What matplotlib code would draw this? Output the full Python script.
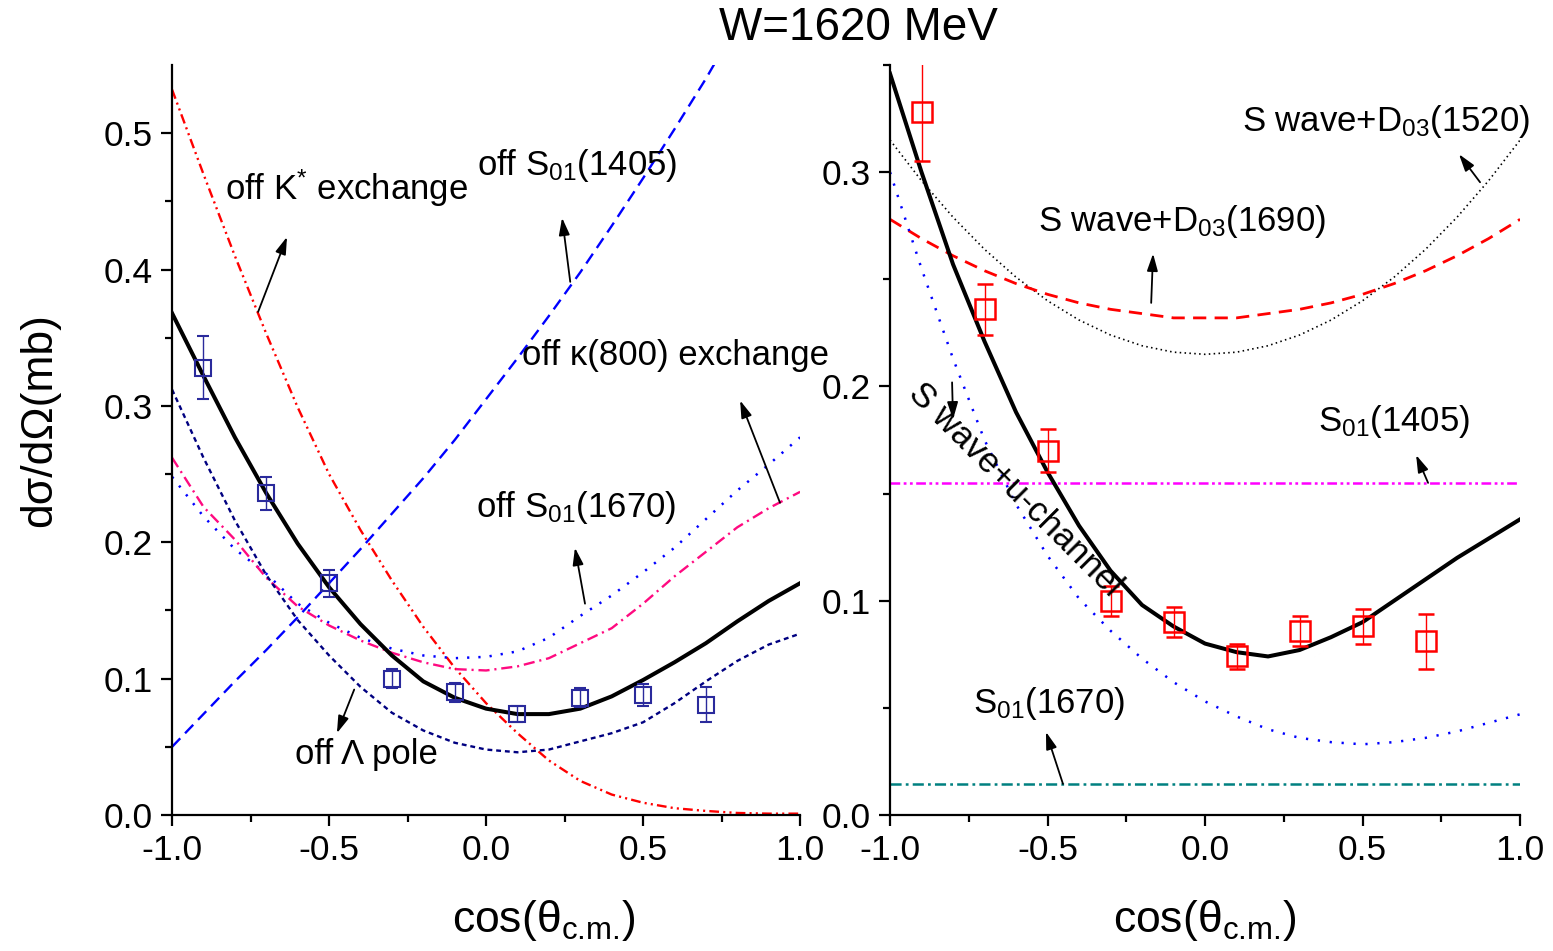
import numpy as np
import matplotlib
matplotlib.use('Agg')
import matplotlib.pyplot as plt

plt.rcParams['font.family'] = ['Liberation Sans', 'DejaVu Sans']
plt.rcParams['mathtext.fontset'] = 'custom'
plt.rcParams['mathtext.rm'] = 'Liberation Sans'
plt.rcParams['mathtext.it'] = 'Liberation Sans:italic'
plt.rcParams['mathtext.bf'] = 'Liberation Sans:bold'
plt.rcParams['axes.unicode_minus'] = False
plt.rcParams['lines.scale_dashes'] = False

# angular grid of the model curves
cos_th = [-1.0, -0.9, -0.8, -0.7, -0.6, -0.5, -0.4, -0.3, -0.2, -0.1, 0.0,
          0.1, 0.2, 0.3, 0.4, 0.5, 0.6, 0.7, 0.8, 0.9, 1.0]

# measured dsigma/dOmega (mb)
data_cos = [-0.9, -0.7, -0.5, -0.3, -0.1, 0.1, 0.3, 0.5, 0.7]
data_xs = [0.328, 0.236, 0.170, 0.100, 0.090, 0.074, 0.086, 0.088, 0.081]
data_err = [0.023, 0.012, 0.010, 0.007, 0.007, 0.006, 0.007, 0.008, 0.013]

# left panel: full model and "switch one piece off" curves
full_left = [0.368, 0.322, 0.277, 0.236, 0.199, 0.167, 0.140, 0.117, 0.098, 0.086, 0.078,
             0.074, 0.074, 0.078, 0.087, 0.099, 0.112, 0.126, 0.142, 0.157, 0.170]
off_kstar = [0.532, 0.470, 0.410, 0.353, 0.299, 0.250, 0.209, 0.172, 0.138, 0.108, 0.082,
             0.060, 0.040, 0.025, 0.015, 0.009, 0.005, 0.003, 0.0015, 0.001, 0.001]
off_s01_1405 = [0.050, 0.074, 0.098, 0.121, 0.145, 0.170, 0.195, 0.221, 0.247, 0.275, 0.305,
                0.335, 0.366, 0.398, 0.432, 0.467, 0.503, 0.540, 0.580, 0.620, 0.660]
off_kappa = [0.248, 0.219, 0.195, 0.177, 0.155, 0.141, 0.130, 0.122, 0.117, 0.115, 0.116,
             0.120, 0.130, 0.146, 0.161, 0.178, 0.196, 0.217, 0.238, 0.257, 0.277]
off_s01_1670 = [0.262, 0.226, 0.202, 0.174, 0.153, 0.139, 0.128, 0.119, 0.112, 0.107, 0.106,
                0.109, 0.115, 0.126, 0.137, 0.155, 0.175, 0.193, 0.211, 0.225, 0.237]
off_lambda = [0.312, 0.262, 0.216, 0.176, 0.143, 0.117, 0.094, 0.075, 0.062, 0.053, 0.048,
              0.046, 0.048, 0.054, 0.060, 0.068, 0.082, 0.098, 0.113, 0.125, 0.133]

# right panel: individual contributions
full_right = [0.346, 0.300, 0.257, 0.221, 0.188, 0.160, 0.135, 0.114, 0.098, 0.088, 0.080,
              0.076, 0.074, 0.077, 0.083, 0.090, 0.100, 0.110, 0.120, 0.129, 0.138]
s_d1520 = [0.315, 0.296, 0.279, 0.264, 0.251, 0.240, 0.231, 0.224, 0.219, 0.216, 0.215,
           0.216, 0.219, 0.224, 0.231, 0.240, 0.251, 0.264, 0.279, 0.296, 0.315]
s_d1690 = [0.278, 0.269, 0.261, 0.254, 0.248, 0.243, 0.239, 0.236, 0.234, 0.232, 0.232,
           0.232, 0.234, 0.236, 0.239, 0.243, 0.248, 0.254, 0.261, 0.269, 0.278]
s_uchan = [0.300, 0.255, 0.213, 0.175, 0.145, 0.121, 0.101, 0.086, 0.073, 0.062, 0.053,
           0.046, 0.040, 0.036, 0.034, 0.033, 0.034, 0.036, 0.039, 0.043, 0.047]
s01_1405_level = 0.155
s01_1670_level = 0.0145

xlabel_text = r'cos(θ$_{\text{c.m.}}$)'


def style_axes(ax, ymax, yticks, yminor):
    ax.set_xlim(-1, 1)
    ax.set_ylim(0, ymax)
    for side in ['top', 'right']:
        ax.spines[side].set_visible(False)
    for side in ['left', 'bottom']:
        ax.spines[side].set_linewidth(1.6)
    ax.set_xticks([-1.0, -0.5, 0.0, 0.5, 1.0])
    ax.set_xticks([-0.75, -0.25, 0.25, 0.75], minor=True)
    ax.set_yticks(yticks)
    ax.set_yticks(yminor, minor=True)
    ax.xaxis.set_major_formatter('{x:.1f}')
    ax.yaxis.set_major_formatter('{x:.1f}')
    ax.tick_params(which='major', direction='out', length=8, width=1.6, labelsize=25.5, pad=6)
    ax.tick_params(which='minor', direction='out', length=5, width=1.6)


def arrow(ax, tail, head):
    ax.annotate('', xy=head, xytext=tail,
                arrowprops=dict(arrowstyle='-|>,head_length=0.8,head_width=0.25',
                                mutation_scale=13, color='k', lw=1.3,
                                shrinkA=0, shrinkB=0))


fig = plt.figure(figsize=(15.53, 9.51), dpi=100)
ax1 = fig.add_axes([0.1108, 0.1430, 0.4044, 0.7886])
ax2 = fig.add_axes([0.5731, 0.1430, 0.4057, 0.7886])

# ---- left panel ----
ax1.plot(cos_th, off_kstar, color='#ff0000', lw=1.7, dashes=(7, 3, 1.5, 3, 1.5, 3))
ax1.plot(cos_th, off_s01_1405, color='#0000ff', lw=1.7, dashes=(8.5, 5))
ax1.plot(cos_th, off_kappa, color='#0000ff', lw=1.8, dashes=(1.6, 6.5))
ax1.plot(cos_th, off_s01_1670, color='#ff0a80', lw=1.7, dashes=(8, 3.5, 1.5, 3.5))
ax1.plot(cos_th, off_lambda, color='#000080', lw=1.7, dashes=(3.5, 2.8))
ax1.plot(cos_th, full_left, color='k', lw=2.9)
ax1.errorbar(data_cos, data_xs, yerr=data_err, fmt='s', ms=11.5, mfc='none',
             mec='#2a2a9c', mew=1.5, ecolor='#2a2a9c', elinewidth=1.0, capsize=4.5,
             capthick=1.0)

style_axes(ax1, 0.55, [0.0, 0.1, 0.2, 0.3, 0.4, 0.5],
           [0.05, 0.15, 0.25, 0.35, 0.45])
ax1.set_ylabel('dσ/dΩ(mb)', fontsize=32)
ax1.yaxis.set_label_coords(-0.178, 0.527)
ax1.set_xlabel(xlabel_text, fontsize=32)
ax1.xaxis.set_label_coords(0.591, -0.11)

ax1.text(-0.831, 0.451, 'off K$^{*}$ exchange', fontsize=25)
ax1.text(-0.029, 0.469, 'off S$_{01}$(1405)', fontsize=25)
ax1.text(0.115, 0.330, 'off κ(800) exchange', fontsize=25)
ax1.text(-0.032, 0.2185, 'off S$_{01}$(1670)', fontsize=25)
ax1.text(-0.608, 0.0374, 'off Λ pole', fontsize=25)

arrow(ax1, (-0.726, 0.369), (-0.634, 0.424))
arrow(ax1, (0.268, 0.391), (0.242, 0.438))
arrow(ax1, (0.936, 0.229), (0.809, 0.304))
arrow(ax1, (0.315, 0.155), (0.283, 0.196))
arrow(ax1, (-0.420, 0.092), (-0.475, 0.060))

# ---- right panel ----
ax2.plot(cos_th, s_d1520, color='k', lw=1.2, dashes=(1.1, 2.4))
ax2.plot(cos_th, s_d1690, color='#ff0000', lw=2.0, dashes=(9.5, 6))
ax2.plot(cos_th, s_uchan, color='#0000ff', lw=1.8, dashes=(1.6, 7))
ax2.axhline(s01_1405_level, color='#ff00ff', lw=1.8, dashes=(7, 2.5, 2, 2.5, 2, 2.5))
ax2.axhline(s01_1670_level, color='#008080', lw=1.8, dashes=(8, 3, 2, 3))
ax2.plot(cos_th, full_right, color='k', lw=2.9)
ax2.errorbar(data_cos, data_xs, yerr=data_err, fmt='s', ms=14, mfc='none',
             mec='#ff0000', mew=1.8, ecolor='#ff0000', elinewidth=1.0, capsize=6,
             capthick=1.0)

style_axes(ax2, 0.35, [0.0, 0.1, 0.2, 0.3], [0.05, 0.15, 0.25, 0.35])
ax2.set_xlabel(xlabel_text, fontsize=32)
ax2.xaxis.set_label_coords(0.5, -0.11)

ax2.text(0.117, 0.319, 'S wave+D$_{03}$(1520)', fontsize=25)
ax2.text(-0.530, 0.2724, 'S wave+D$_{03}$(1690)', fontsize=25)
ax2.text(0.359, 0.179, 'S$_{01}$(1405)', fontsize=25)
ax2.text(-0.737, 0.0477, 'S$_{01}$(1670)', fontsize=25)
ax2.text(-0.603, 0.152, 'S wave+u-channel', fontsize=25, rotation=-45,
         rotation_mode='anchor', ha='center', va='center')

arrow(ax2, (0.873, 0.2953), (0.806, 0.3084))
arrow(ax2, (-0.171, 0.239), (-0.165, 0.262))
arrow(ax2, (0.708, 0.155), (0.670, 0.168))
arrow(ax2, (-0.803, 0.2019), (-0.800, 0.1846))
arrow(ax2, (-0.451, 0.0145), (-0.505, 0.0388))

fig.text(0.553, 0.9706, 'W=1620 MeV', fontsize=33, ha='center', va='center')

fig.savefig('out.png', dpi=100)
